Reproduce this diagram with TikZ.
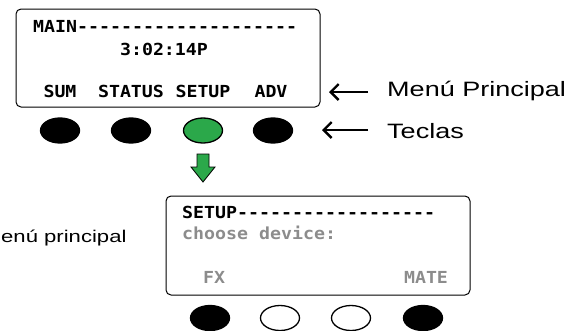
\documentclass[tikz,border=0pt]{standalone}
\usepackage{fontspec}
\usetikzlibrary{shapes.geometric,arrows.meta}
\newfontfamily\lcdfont{DejaVu Sans Mono}[FakeStretch=1.1]
\newfontfamily\labfont{Liberation Sans}[FakeStretch=1.3]
\definecolor{keygreen}{HTML}{2BA84A}
\definecolor{lcdgray}{HTML}{8C8C8C}
\begin{document}
\begin{tikzpicture}[x=1pt,y=-1pt,
  screen/.style={draw=black,line width=1pt,rounded corners=5pt},
  lcd/.style={inner sep=0pt,font=\lcdfont\bfseries\fontsize{16.6}{17}\selectfont},
  lab/.style={inner sep=0pt,font=\labfont\fontsize{20.8}{21}\selectfont},
  key/.style={ellipse,draw=black,line width=1.3pt,minimum width=39pt,minimum height=25pt,inner sep=0pt},
  keyon/.style={key,fill=black},
  keyoff/.style={key,fill=white},
  pointer/.style={line width=2.3pt,-{Straight Barb[length=8pt,width=16pt]}}]
\useasboundingbox (0,0) rectangle (566,330);
% main screen
\draw[screen] (16,9) rectangle (320,107);
\node[lcd,anchor=base west] (mainhdr) at (33,32) {MAIN--------------------};
\node[lcd,anchor=base] (time) at (164,55) {3:02:14P};
\node[lcd,anchor=base] (sum) at (60,97) {SUM};
\node[lcd,anchor=base] (status) at (131,97) {STATUS};
\node[lcd,anchor=base] (setup) at (203,97) {SETUP};
\node[lcd,anchor=base] (adv) at (271,97) {ADV};
% keys
\node[keyon] (k1) at (60,130.5) {};
\node[keyon] (k2) at (131,130.5) {};
\node[key,fill=keygreen] (k3) at (203,130.5) {};
\node[keyon] (k4) at (273,130.5) {};
% labels
\node[lab,anchor=base west] (menu) at (387,96) {Menú Principal};
\node[lab,anchor=base west] (teclas) at (387,138) {Teclas};
\coordinate (a1s) at (368,92);
\coordinate (a1e) at (329,92);
\coordinate (a2s) at (368,130);
\coordinate (a2e) at (322,130);
\draw[pointer] (a1s) -- (a1e);
\draw[pointer] (a2s) -- (a2e);
% green down arrow
\draw[fill=keygreen,draw=black,line width=0.8pt,line join=miter]
  (197,154) -- (209,154) -- (209,167) -- (215,167) -- (203,182) -- (191,167) -- (197,167) -- cycle;
% left text
\node[lab,anchor=base west,font=\labfont\fontsize{17}{18}\selectfont] (back) at (1,242) {enú principal};
% setup screen
\draw[screen] (166,196) rectangle (470,295);
\node[lcd,anchor=base west] (setuphdr) at (182,218) {SETUP------------------};
\node[lcd,anchor=base west,text=lcdgray] (choose) at (182,239) {choose device:};
\node[lcd,anchor=base,text=lcdgray] (fx) at (214,283) {FX};
\node[lcd,anchor=base,text=lcdgray] (mate) at (426,283) {MATE};
\node[keyon] (b1) at (210,318) {};
\node[keyoff] (b2) at (280,318) {};
\node[keyoff] (b3) at (351,318) {};
\node[keyon] (b4) at (423,318) {};
\end{tikzpicture}
\end{document}
